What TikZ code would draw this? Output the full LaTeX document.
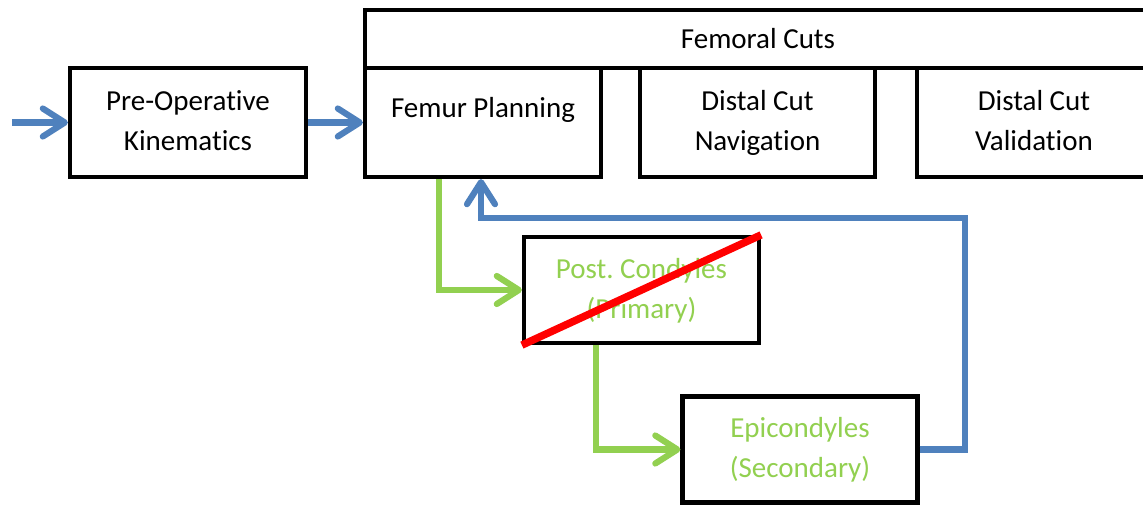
\documentclass[tikz,border=0pt]{standalone}
\usepackage{fontspec}
\setmainfont{Carlito}[Ligatures=NoCommon]
\usetikzlibrary{arrows.meta,calc}
\definecolor{oblue}{HTML}{4F81BD}
\definecolor{ogreen}{HTML}{92D050}
\definecolor{ored}{HTML}{FF0000}
\frenchspacing
\begin{document}
\begin{tikzpicture}[x=1pt,y=-1pt,
  txt/.style={font=\fontsize{29}{40}\selectfont},
  box/.style={txt, draw=black, line width=4.2pt, minimum width=236pt, minimum height=109pt,
    inner sep=0pt, align=center, fill=white},
  conn/.style={line width=6.2pt, -{Straight Barb[length=22pt,width=28pt,round]}},
  barrow/.style={conn, draw=oblue},
  garrow/.style={conn, draw=ogreen},
  cross/.style={draw=ored, line width=7.5pt}]
\useasboundingbox (0,0) rectangle (1143,506);
\clip (0,0) rectangle (1143,506);
\node[box] (pre) at (188,122.5) {\strut Pre-Operative\\\strut Kinematics};
\node[box, minimum width=786pt, minimum height=58pt] (cuts) at (758,39) {Femoral Cuts};
\node[box, label={[txt, yshift=13pt]center:Femur Planning}] (femur) at (483,122.5) {};
\node[box, minimum width=235pt] (nav) at (757.5,122.5) {\strut Distal Cut\\\strut Navigation};
\node[box, minimum width=234pt] (val) at (1034,122.5) {\strut Distal Cut\\\strut Validation};
\node[box, minimum width=235pt, minimum height=106pt, text=ogreen] (post) at (641.5,290) {\strut Post.\ Condyles\\\strut (Primary)};
\node[box, minimum width=235pt, minimum height=106pt, text=ogreen] (epi) at (800,449.5) {\strut Epicondyles\\\strut (Secondary)};
\coordinate (in) at (12,122.5);
\coordinate (bturn) at (965,218);
\draw[barrow] (in) -- (pre.west);
\draw[barrow] (pre.east) -- (femur.west);
\draw[garrow] ($(femur.south west)+(76,0)$) |- (post.west);
\draw[garrow] ($(post.south west)+(74,0)$) |- (epi.west);
\draw[barrow] (epi.east) -| (bturn) -| ($(femur.south)+(-2,0)$);
\draw[cross] (post.south west) -- (post.north east);
\end{tikzpicture}
\end{document}
